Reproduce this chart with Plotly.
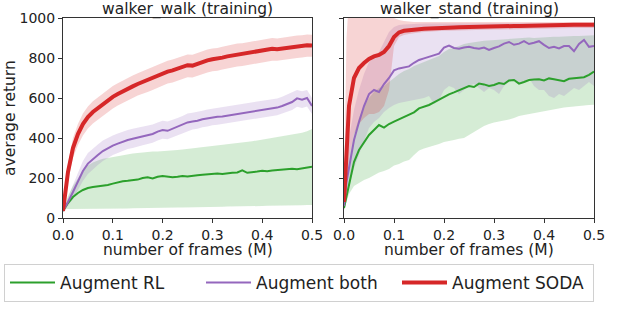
import plotly.graph_objects as go

# frames (M)
frames = [0, 0.005, 0.01, 0.02, 0.03, 0.04, 0.05, 0.06, 0.07, 0.08, 0.09,
          0.10, 0.11, 0.12, 0.13, 0.14, 0.15, 0.16, 0.17, 0.18, 0.19,
          0.20, 0.21, 0.22, 0.23, 0.24, 0.25, 0.26, 0.27, 0.28, 0.29,
          0.30, 0.31, 0.32, 0.33, 0.34, 0.35, 0.36, 0.37, 0.38, 0.39,
          0.40, 0.41, 0.42, 0.43, 0.44, 0.45, 0.46, 0.47, 0.48, 0.49, 0.50]

titles = ["walker_walk (training)", "walker_stand (training)"]
series_names = ["Augment RL", "Augment both", "Augment SODA"]

# ---- walker_walk ----
walk_rl = [35, 55, 75, 105, 125, 140, 150, 155, 158, 160, 165,
           172, 178, 184, 186, 188, 192, 200, 204, 198, 206,
           210, 208, 204, 206, 210, 208, 212, 214, 216, 218,
           220, 222, 220, 224, 226, 228, 238, 226, 228, 232,
           236, 234, 238, 240, 242, 244, 246, 244, 248, 252, 256]
walk_rl_lo = [35, 45, 45, 45, 45, 45, 45, 45, 46, 46, 47,
              47, 48, 48, 48, 49, 49, 50, 50, 50, 51,
              51, 52, 52, 52, 53, 53, 54, 54, 55, 55,
              56, 56, 56, 57, 57, 58, 58, 59, 59, 60,
              60, 61, 61, 62, 62, 63, 63, 64, 64, 65, 65]
walk_rl_hi = [35, 70, 110, 160, 200, 235, 262, 278, 288, 296, 300,
              305, 310, 314, 318, 322, 325, 328, 330, 332, 333,
              334, 336, 338, 340, 342, 345, 348, 350, 352, 355,
              357, 360, 363, 366, 370, 373, 376, 380, 384, 388,
              392, 396, 400, 404, 408, 412, 416, 420, 426, 434, 445]

walk_both = [35, 55, 80, 130, 185, 235, 272, 295, 315, 335, 350,
             362, 372, 382, 390, 396, 402, 410, 414, 420, 432,
             440, 436, 446, 456, 466, 478, 482, 486, 494, 498,
             504, 506, 508, 512, 516, 520, 522, 526, 530, 534,
             538, 544, 548, 552, 560, 572, 580, 598, 592, 600, 560]
walk_both_lo = [35, 45, 60, 95, 140, 185, 220, 245, 265, 285, 300,
                315, 325, 335, 345, 350, 358, 364, 370, 376, 388,
                396, 394, 404, 414, 424, 436, 442, 446, 454, 458,
                464, 466, 470, 474, 478, 482, 484, 488, 492, 496,
                500, 506, 510, 514, 522, 532, 540, 556, 550, 558, 520]
walk_both_hi = [35, 65, 100, 165, 230, 285, 325, 348, 368, 388, 402,
                412, 422, 432, 440, 446, 452, 458, 462, 468, 478,
                486, 482, 490, 500, 510, 522, 526, 530, 536, 542,
                546, 550, 554, 558, 562, 566, 568, 572, 576, 580,
                584, 588, 592, 598, 606, 616, 626, 640, 634, 640, 600]

walk_soda = [35, 140, 230, 350, 420, 470, 505, 530, 550, 570, 590,
             606, 620, 634, 646, 658, 670, 680, 690, 700, 712,
             724, 732, 738, 748, 756, 764, 762, 772, 780, 788,
             794, 796, 802, 808, 812, 818, 820, 824, 830, 834,
             838, 840, 846, 844, 848, 852, 856, 858, 860, 864, 862]
walk_soda_lo = [35, 110, 190, 300, 365, 412, 448, 472, 492, 512, 532,
                548, 562, 576, 588, 600, 612, 620, 630, 640, 652,
                664, 672, 678, 688, 696, 704, 702, 712, 720, 728,
                734, 736, 742, 748, 752, 758, 760, 764, 770, 774,
                778, 780, 786, 786, 790, 794, 798, 800, 802, 806, 806]
walk_soda_hi = [35, 170, 270, 400, 470, 522, 558, 584, 604, 624, 644,
                660, 674, 688, 700, 712, 724, 734, 744, 754, 766,
                778, 786, 792, 802, 810, 818, 816, 826, 834, 842,
                848, 850, 856, 862, 866, 872, 874, 878, 884, 888,
                892, 894, 900, 898, 902, 906, 910, 912, 914, 918, 916]

# ---- walker_stand ----
stand_rl = [50, 110, 170, 280, 340, 380, 415, 440, 465, 452, 470,
            482, 494, 505, 515, 528, 548, 555, 565, 578, 592,
            608, 618, 628, 640, 650, 660, 655, 672, 668, 660,
            665, 675, 670, 688, 690, 672, 680, 690, 692, 694,
            688, 698, 694, 690, 684, 696, 698, 700, 704, 716, 732]
stand_rl_lo = [40, 80, 120, 160, 175, 190, 200, 215, 228, 235, 245,
               262, 270, 282, 290, 315, 338, 348, 355, 362, 370,
               380, 384, 390, 396, 400, 415, 430, 445, 460, 470,
               478, 482, 486, 492, 500, 510, 515, 520, 524, 528,
               532, 538, 542, 548, 552, 555, 558, 560, 562, 565, 566]
stand_rl_hi = [60, 200, 300, 420, 500, 560, 600, 630, 650, 660, 680,
               700, 720, 735, 745, 760, 770, 780, 790, 800, 810,
               830, 845, 850, 860, 870, 875, 880, 882, 886, 888,
               890, 892, 894, 896, 898, 900, 900, 902, 900, 902,
               904, 904, 906, 906, 908, 908, 910, 910, 912, 912, 914]

stand_both = [60, 180, 250, 390, 480, 560, 620, 640, 630, 670, 700,
              738, 748, 752, 758, 776, 790, 798, 806, 812, 822,
              852, 862, 850, 846, 852, 856, 850, 846, 852, 840,
              850, 858, 872, 880, 866, 872, 884, 870, 876, 884,
              866, 850, 856, 848, 860, 860, 834, 870, 890, 856, 860]
stand_both_lo = [40, 100, 160, 250, 320, 390, 450, 480, 500, 530, 550,
                 565, 575, 580, 585, 590, 598, 600, 610, 570, 590,
                 640, 660, 650, 620, 640, 660, 670, 650, 630, 650,
                 640, 620, 660, 680, 690, 670, 680, 700, 660, 640,
                 640, 610, 600, 620, 610, 630, 650, 640, 660, 680, 660]
stand_both_hi = [80, 300, 400, 540, 640, 720, 780, 800, 830, 880, 930,
                 955, 965, 968, 970, 970, 971, 972, 972, 973, 973,
                 973, 974, 974, 974, 975, 975, 975, 975, 975, 975,
                 975, 975, 975, 975, 975, 975, 975, 975, 975, 975,
                 975, 975, 975, 975, 975, 975, 975, 975, 975, 975, 975]

stand_soda = [80, 350, 560, 700, 750, 775, 795, 808, 815, 830, 860,
              905, 928, 936, 940, 942, 944, 946, 948, 950, 951,
              952, 952, 953, 954, 955, 955, 956, 956, 957, 957,
              958, 958, 959, 959, 960, 960, 961, 961, 962, 962,
              963, 963, 964, 964, 965, 965, 966, 966, 967, 967, 966]
stand_soda_lo = [40, 150, 300, 420, 470, 500, 520, 520, 530, 560, 640,
                 860, 905, 915, 920, 925, 928, 930, 932, 934, 935,
                 936, 936, 937, 938, 939, 939, 940, 940, 941, 941,
                 942, 942, 943, 943, 944, 944, 945, 945, 946, 946,
                 947, 947, 948, 948, 949, 949, 950, 950, 951, 951, 950]
stand_soda_hi = [120, 900, 1100, 1100, 1100, 1100, 1100, 1100, 1100, 1100, 1100,
                 1000, 990, 985, 982, 980, 980, 980, 980, 980, 980,
                 980, 980, 980, 980, 980, 980, 980, 980, 980, 980,
                 980, 980, 980, 980, 980, 980, 980, 980, 980, 980,
                 980, 980, 980, 980, 980, 980, 980, 980, 981, 981, 980]

COLORS = ["#2ca02c", "#9467bd", "#d62728"]
BANDS = ["rgba(44,160,44,0.2)", "rgba(148,103,189,0.2)", "rgba(214,39,40,0.2)"]
WIDTHS = [2, 2, 4]

panels = [
    [(walk_rl, walk_rl_lo, walk_rl_hi), (walk_both, walk_both_lo, walk_both_hi),
     (walk_soda, walk_soda_lo, walk_soda_hi)],
    [(stand_rl, stand_rl_lo, stand_rl_hi), (stand_both, stand_both_lo, stand_both_hi),
     (stand_soda, stand_soda_lo, stand_soda_hi)],
]

fig = go.Figure()
for p, series in enumerate(panels):
    xa = "x" if p == 0 else "x2"
    ya = "y" if p == 0 else "y2"
    # shaded bands first, then mean curves on top
    for k, (mean, lo, hi) in enumerate(series):
        fig.add_trace(go.Scatter(x=frames, y=hi, xaxis=xa, yaxis=ya, mode="lines",
                                 line=dict(width=0, color=BANDS[k]), showlegend=False,
                                 hoverinfo="skip"))
        fig.add_trace(go.Scatter(x=frames, y=lo, xaxis=xa, yaxis=ya, mode="lines",
                                 line=dict(width=0, color=BANDS[k]), fill="tonexty",
                                 fillcolor=BANDS[k], showlegend=False, hoverinfo="skip"))
    for k, (mean, lo, hi) in enumerate(series):
        fig.add_trace(go.Scatter(x=frames, y=mean, xaxis=xa, yaxis=ya, mode="lines",
                                 name=series_names[k], legendrank=k,
                                 line=dict(width=WIDTHS[k], color=COLORS[k]),
                                 showlegend=(p == 0)))

axis_style = dict(showline=True, mirror=True, linecolor="#333", linewidth=1,
                  ticks="outside", ticklen=4, tickcolor="#333", showgrid=False,
                  zeroline=False, automargin=False, tickfont=dict(size=14))
W, H = 620, 326
fig.update_layout(
    width=W, height=H, autosize=False,
    margin=dict(l=0, r=0, t=18, b=108, autoexpand=False),
    plot_bgcolor="white", paper_bgcolor="white",
    font=dict(family="DejaVu Sans", color="#222", size=14),
    xaxis=dict(domain=[63 / W, 312 / W], range=[0, 0.5], dtick=0.1, tickformat=".1f",
               anchor="y", **axis_style),
    xaxis2=dict(domain=[344 / W, 594 / W], range=[0, 0.5], dtick=0.1, tickformat=".1f",
                anchor="y2", **axis_style),
    yaxis=dict(domain=[0, 1], range=[0, 1000], dtick=200, anchor="x", **axis_style),
    yaxis2=dict(domain=[0, 1], range=[0, 1000], dtick=200, anchor="x2",
                showticklabels=False, **axis_style),
    legend=dict(orientation="h", x=4 / W, xanchor="left", y=-0.23, yanchor="top",
                bordercolor="#d0d0d0", borderwidth=1, font=dict(size=17),
                itemwidth=45, entrywidth=136, traceorder="normal"),
    showlegend=True,
)

annotations = [
    dict(text=titles[0], x=187.5 / W, y=1.043, xanchor="center"),
    dict(text=titles[1], x=469 / W, y=1.043, xanchor="center"),
    dict(text="number of frames (M)", x=187.5 / W, y=-0.162, xanchor="center"),
    dict(text="number of frames (M)", x=469 / W, y=-0.162, xanchor="center"),
    dict(text="average return", x=10 / W, y=0.5, textangle=-90, xanchor="center"),
]
for a in annotations:
    a.update(xref="paper", yref="paper", showarrow=False, font=dict(size=15.5),
             yanchor="middle")
fig.update_layout(annotations=annotations)

fig.write_html("out.html", config={"displayModeBar": False},
               post_script="document.body.style.margin='0px';")
